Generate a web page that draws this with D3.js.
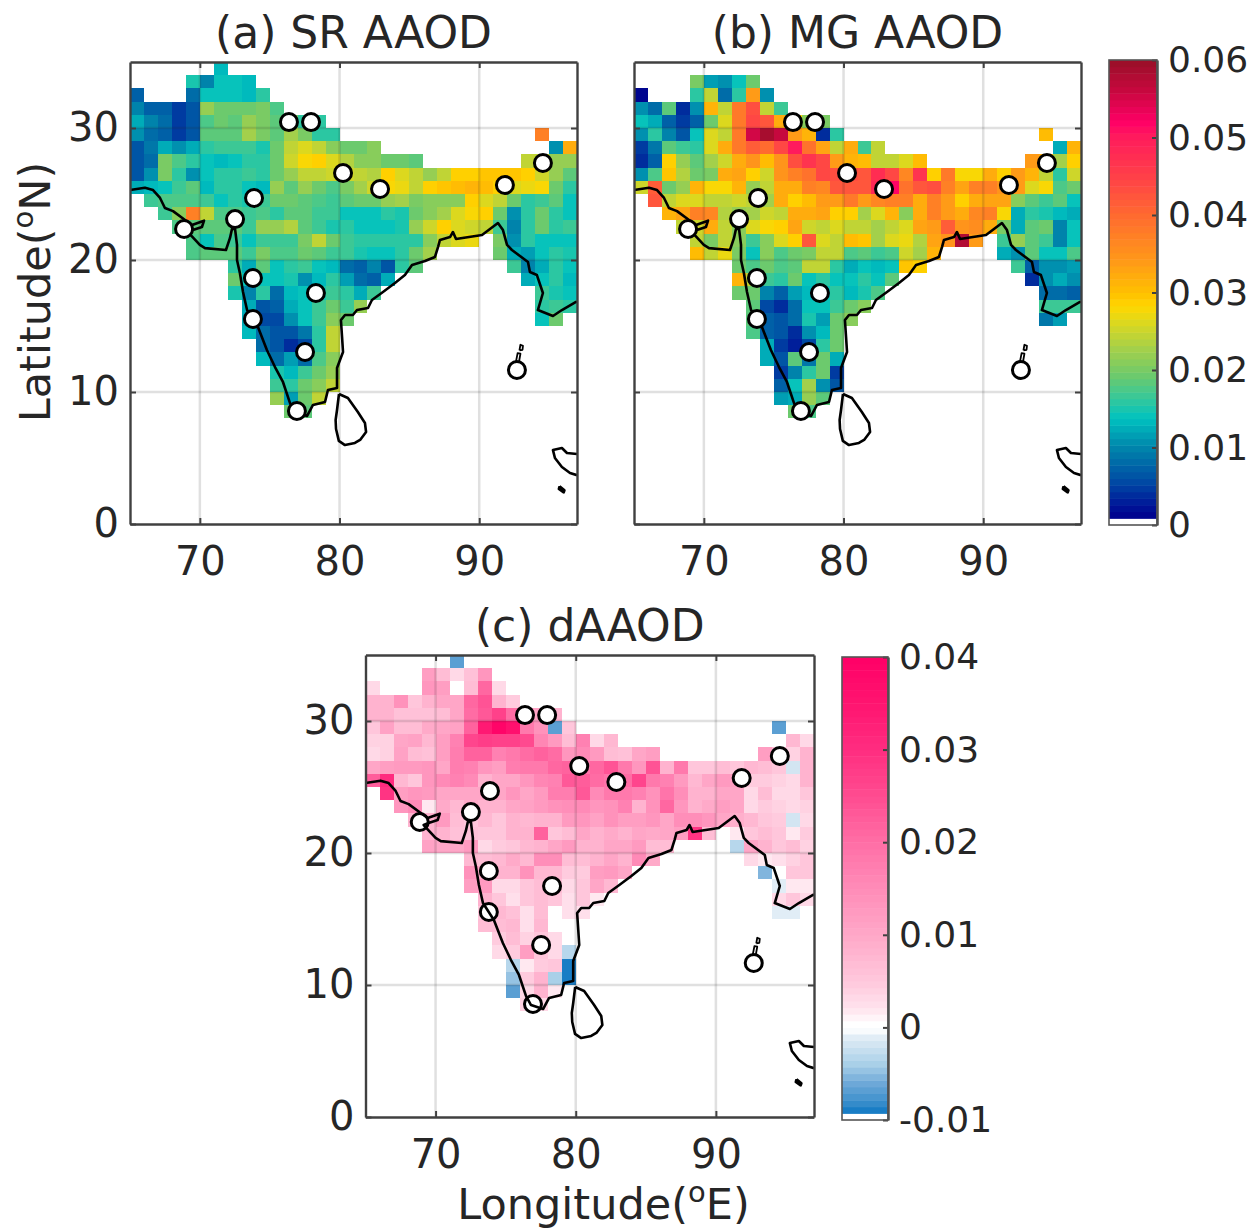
<!DOCTYPE html>
<meta charset="utf-8">
<style>
  html, body { margin: 0; background: #fff; }
  text { font-family: "DejaVu Sans", sans-serif; fill: #262626; }
  .axis path, .axis line { stroke: #404040; }
  .axis path { stroke-width: 2.4px; }
  .axis line { stroke-width: 2px; }
  .axis text { font-size: 40px; fill: #262626; }
  .grid line { stroke: #262626; stroke-opacity: .14; stroke-width: 2.5px; }
  .coast { fill: none; stroke: #000; stroke-width: 2.6px; stroke-linejoin: round; }
  .station { fill: #fff; stroke: #000; stroke-width: 3px; }
  .cells { filter: blur(.6px); }
</style>
<body>
<script src="https://d3js.org/d3.v7.min.js"></script>
<script>
// grid: one degree cells, first entry of each row is lon 65, values in units of 0.001
const _ = null;
const lats = [34,33,32,31,30,29,28,27,26,25,24,23,22,21,20,19,18,17,16,15,14,13,12,11,10,9,8];

const srAAOD = [
  [_,_,_,_,_,_,13],
  [_,_,_,_,15,10,14.5,14.5,13],
  [7,_,_,_,8.5,14,14.5,14.5,13.5,16],
  [9.5,7,7,5,6,22,19,19,19,20.5,17.5],
  [12,9.5,8.5,5,6,17.5,19.5,18.5,21.5,20,18.5,20,16,15.5],
  [10.5,8.5,7.5,4.5,6,18,18,18,22.5,20,18,22.5,20,15.5,15.5,_,_,_,_,_,_,_,_,_,_,_,_,_,_,37],
  [6,9,12.5,10.5,12,16,16.5,16.5,17,15,19,24.5,26.5,24.5,21,19,19.5,21,_,_,_,_,_,_,_,_,_,_,_,_,11,32],
  [6,8,20.5,17.5,16,14,13.5,14.5,16,16,19,25,27.5,28.5,26.5,23.5,21,21,19.5,19,18.5,_,_,_,_,_,_,_,24.5,24,22,21.5],
  [6,10.5,20.5,15.5,11,14.5,16,16,16.5,16,19,21.5,24.5,24.5,25,25,24.5,23.5,28.5,26.5,24.5,21.5,24.5,28.5,28.5,29.5,29.5,29.5,28.5,25,22,18.5],
  [12,13.5,14.5,16.5,18.5,13.5,15.5,16,14,13.5,21.5,18.5,21.5,19,17.5,20,22.5,25.5,28,27,24.5,28.5,29.5,30.5,31,30,29,26.5,27,28,19,16],
  [_,16.5,17.5,17.5,17.5,16.5,14.5,16,15,16.5,19,19,18.5,17.5,16.5,18.5,19,19.5,21.5,22.5,20,21,21,21,29,26,24.5,19.5,16,17,18,14.5],
  [_,_,17,21,37,24.5,17.5,17.5,16.5,17.5,16,18.5,18.5,16.5,16.5,14,14,14,16,15,19.5,21,23,26.5,28,28.5,19.5,10.5,16,19,15.5,14.5],
  [_,_,_,17.5,18.5,18,18.5,18,16.5,21.5,21.5,23.5,18,16.5,15,15.5,14.5,14,14.5,15,21.5,25,28.5,26.5,25.5,24.5,17,9.5,16,19,16,16.5],
  [_,_,_,_,17.5,14.5,17.5,16.5,14.5,16.5,16.5,16.5,20.5,24.5,19,17,15.5,15.5,15.5,16,16,21,24.5,26,27,_,20,10.5,16,14.5,14.5,14.5],
  [_,_,_,_,17.5,18,18,18,16.5,20.5,17.5,17.5,19,18,16.5,16.5,15,14.5,14.5,16,19.5,22.5,_,_,_,_,19.5,12.5,11.5,14.5,16,15],
  [_,_,_,_,_,_,_,16,12.5,18,14.5,15.5,17,14.5,13.5,8.5,7,9.5,6.5,16,18.5,_,_,_,_,_,_,16.5,10,12.5,16,14],
  [_,_,_,_,_,_,_,19.5,14,14.5,14,15,11,13.5,15.5,11.5,8.5,7.5,12.5,_,_,_,_,_,_,_,_,_,12.5,14.5,16,13.5],
  [_,_,_,_,_,_,_,15,9.5,15.5,8.5,13,14.5,15,16.5,15.5,12,17,_,_,_,_,_,_,_,_,_,_,_,16.5,15,14],
  [_,_,_,_,_,_,_,_,12.5,6.5,7.5,12.5,14,16.5,19,16.5,21.5,_,_,_,_,_,_,_,_,_,_,_,_,15.5,17,16],
  [_,_,_,_,_,_,_,_,12.5,5.5,5.5,10.5,14,17,21,19,_,_,_,_,_,_,_,_,_,_,_,_,_,14,19],
  [_,_,_,_,_,_,_,_,13.5,8.5,6.5,6,9,16,24.5],
  [_,_,_,_,_,_,_,_,_,8.5,6.5,4,5.5,15.5,24.5],
  [_,_,_,_,_,_,_,_,_,13,8,11.5,8.5,17.5,21],
  [_,_,_,_,_,_,_,_,_,_,15,13.5,16.5,19,21.5],
  [_,_,_,_,_,_,_,_,_,_,16.5,15.5,19,21,24.5],
  [_,_,_,_,_,_,_,_,_,_,22,11.5,19.5,24],
  [_,_,_,_,_,_,_,_,_,_,_,19.5,18.5]
];

const mgAAOD = [
  [],
  [_,_,_,_,20.5,11.5,11,14.5,19.5],
  [1.5,_,_,_,15.5,24.5,8.5,16,34,10.5],
  [11,8,18,3.5,10.5,31,24.5,38.5,43.5,24.5,16.5],
  [14.5,12,7,4.5,7,19.5,26.5,38.5,44,42.5,32,28,21,20],
  [11,15.5,9.5,6,14,26.5,24.5,38.5,55.5,59,56,34,31,3.5,16,_,_,_,_,_,_,_,_,_,_,_,_,_,_,30.5],
  [5,9,18,16.5,16,26.5,32.5,38,41.5,40,44.5,50.5,39,33,24.5,32.5,16.5,24.5,_,_,_,_,_,_,_,_,_,_,_,_,12.5,31.5],
  [4,7,28.5,21.5,18.5,22.5,25.5,32.5,35,30,34.5,43,46.5,44,33.5,31,30,24.5,24.5,26,30,_,_,_,_,_,_,_,34,32,22.5,28.5],
  [10.5,17.5,29.5,23.5,19,20.5,32.5,33,28.5,25.5,34.5,37,39,44,43,43,42,47.5,44.5,36,47,28.5,38,27.5,27.5,32,28.5,34,31.5,24.5,16,25.5],
  [25.5,41.5,19.5,21.5,31,28,28,31.5,21.5,24,32,32,37,36,42,42,42,48,51.5,39,42,43,37.5,33,37,37.5,34.5,34,26.5,28,17.5,19],
  [_,42.5,24.5,26,26.5,24.5,24,25,24,23,32.5,29,30.5,33.5,34,38,33.5,36,37,37,32.5,37,33.5,28.5,32,33,33,21,18.5,16.5,18.5,14.5],
  [_,_,31.5,33,37,36,23.5,21.5,22.5,25.5,24.5,32.5,32,33,28.5,28.5,22.5,26.5,31.5,21,32.5,37,34,32.5,36,37,28,12,15.5,15,13.5,12],
  [_,_,_,24,25,32,24,21,26.5,28,28.5,33,25,24.5,26,24.5,24.5,22.5,24.5,26.5,33,34,41.5,35,35.5,32,20.5,12.5,18.5,19.5,9.5,14.5],
  [_,_,_,_,24,20.5,24,21,16.5,21,26,28.5,42.5,26.5,24.5,30.5,29.5,22.5,26.5,27,23.5,33,35,58,34,_,17,21.5,18.5,16.5,9.5,14.5],
  [_,_,_,_,30.5,24.5,27,20,14,21,17.5,19,20.5,24.5,24,17.5,18.5,17,17.5,25.5,23,31,_,_,_,_,12.5,10.5,18.5,14.5,14.5,17.5],
  [_,_,_,_,_,_,_,19.5,17.5,19,17.5,18.5,24.5,24.5,15.5,12,14,13.5,14.5,29.5,28.5,_,_,_,_,_,_,16.5,7.5,10.5,10.5,11.5],
  [_,_,_,_,_,_,_,31,24.5,16.5,16,19.5,14.5,16,14.5,14,15.5,14,18.5,_,_,_,_,_,_,_,_,_,3.5,10.5,12.5,10.5],
  [_,_,_,_,_,_,_,19,19.5,9.5,7.5,11.5,13.5,14.5,15.5,13.5,15,17.5,_,_,_,_,_,_,_,_,_,_,_,8.5,8.5,7.5],
  [_,_,_,_,_,_,_,_,18.5,5.5,4,8.5,14,14.5,16.5,19.5,21,_,_,_,_,_,_,_,_,_,_,_,_,16.5,17,16.5],
  [_,_,_,_,_,_,_,_,18,7.5,6,8.5,15,11.5,19.5,21,_,_,_,_,_,_,_,_,_,_,_,_,_,9,11.5],
  [_,_,_,_,_,_,_,_,17.5,7.5,6,4,11,13.5,19],
  [_,_,_,_,_,_,_,_,_,12.5,5,3,5.5,16,19.5],
  [_,_,_,_,_,_,_,_,_,12.5,6.5,18,9,19.5,12],
  [_,_,_,_,_,_,_,_,_,_,5,9.5,15.5,19,4.5],
  [_,_,_,_,_,_,_,_,_,_,7,14.5,22.5,11,6.5],
  [_,_,_,_,_,_,_,_,_,_,11.5,12.5,21.5,18.5],
  [_,_,_,_,_,_,_,_,_,_,_,19,17.5]
];

const dAAOD = [
  [_,_,_,_,_,_,-6.5],
  [_,_,_,_,12,6.5,3,6,13],
  [3,_,_,_,13,12,0,7,21,3],
  [8.5,8.5,14,5,8.5,10.5,10.5,21,24,8.5,4.5],
  [8,8.5,6,6,6,6.5,10.5,20,23.5,26.5,20,12.5,11,8],
  [5,11,7,6.5,9.5,10.5,11,22,34,39,36,18,14,-6.5,5,_,_,_,_,_,_,_,_,_,_,_,_,_,_,-6.5],
  [4,4,10.5,11,7.5,11.5,16.5,26,27.5,27,27,25.5,16,12.5,6.5,16.5,3,7.5,_,_,_,_,_,_,_,_,_,_,_,_,7.5,3],
  [3.5,4,11,6.5,6,11.5,17.5,22,22,16.5,18,20.5,22,20,13.5,15,12.5,6.5,6,10.5,12,_,_,_,_,_,_,_,11.5,7,4,8.5],
  [10.5,12,12.5,12.5,13,10.5,17.5,17,13.5,11.5,17.5,18,18.5,21,22,19,21,24,18.5,13.5,24,8.5,18,5,5,6.5,5,7.5,6.5,5,-2,8.5],
  [22.5,30,7.5,5.5,13.5,15,16.5,15.5,8.5,10.5,10.5,13.5,16,16.5,23.5,22.5,20,19,20,26,18,17,12.5,7.5,10.5,12.5,12,4.5,4.5,4,3.5,8.5],
  [_,29,11.5,13.5,12.5,10.5,10.5,10.5,10.5,10.5,13.5,10.5,12.5,17.5,17.5,23.5,15.5,18,18.5,16.5,14,19,14.5,8.5,8.5,10.5,10.5,3.5,7,3,3,5],
  [_,_,13.5,15.5,2,9.5,7.5,9.5,8.5,8.5,10.5,11,12.5,14,14.5,15,13.5,14,16.5,8.5,14,21,13.5,8.5,9.5,12,10.5,3.5,4.5,4,3.5,4],
  [_,_,_,8,8.5,12.5,6.5,5.5,7.5,5.5,8.5,7.5,8.5,8.5,12.5,13.5,11,14,12,12,13.5,10.5,14.5,14.5,13.5,10.5,9,7.5,5,4.5,-1.5,3],
  [_,_,_,_,8,8.5,6,6,5,5,8.5,8.5,22,5.5,7,10.5,8,9.5,8.5,10,9.5,10.5,12,29,6.5,_,2,5.5,6.5,5.5,1.5,4.5],
  [_,_,_,_,11,10.5,10.5,12.5,3,4.5,5.5,7.5,8.5,10.5,12.5,8.5,8.5,10.5,10.5,12.5,6.5,7,_,_,_,_,-3,10.5,8.5,5,6.5,4],
  [_,_,_,_,_,_,_,7.5,6.5,7.5,9.5,7.5,14.5,14.5,6.5,6.5,8.5,10.5,8.5,15,9.5,_,_,_,_,_,_,3,2,2.5,4,5],
  [_,_,_,_,_,_,_,14,9.5,8.5,8.5,14,7.5,7.5,4.5,4.5,11.5,12.5,10,_,_,_,_,_,_,_,_,_,-5.5,.5,5,5],
  [_,_,_,_,_,_,_,11.5,12.5,3,3,5,6.5,6.5,3.5,5.5,10.5,7.5,_,_,_,_,_,_,_,_,_,_,_,-1,2,2],
  [_,_,_,_,_,_,_,_,8.5,5,2.5,5,6.5,5.5,2.5,5.5,2,_,_,_,_,_,_,_,_,_,_,_,_,3.5,5.5,3.5],
  [_,_,_,_,_,_,_,_,5.5,7.5,6,2.5,6.5,_,2.5,2.5,_,_,_,_,_,_,_,_,_,_,_,_,_,-1,-1],
  [_,_,_,_,_,_,_,_,6.5,6.5,7.5,2.5,7.5],
  [_,_,_,_,_,_,_,_,_,4.5,6.5,4,5,3],
  [_,_,_,_,_,_,_,_,_,3,4.5,12,5,3,-3.5],
  [_,_,_,_,_,_,_,_,_,_,-3,2,4.5,5.5,-9],
  [_,_,_,_,_,_,_,_,_,_,-4.5,4.5,8.5,-4,-9],
  [_,_,_,_,_,_,_,_,_,_,-6.5,3,8,2],
  [_,_,_,_,_,_,_,_,_,_,_,4,3]
];

// station markers, lon / lat
const stationLon = [76.38,77.96,80.25,82.9,94.56,91.84,73.88,72.52,68.87,73.8,78.31,73.8,77.53,76.95,92.7];
const stationLat = [30.45,30.45,26.59,25.38,27.35,25.68,24.7,23.1,22.35,18.64,17.5,15.53,13.03,8.56,11.67];

// coastlines, [lon, lat]
const coastIndia = [[65,25.3],[66.07,25.48],[66.65,25.3],[67.15,24.7],[67.5,23.94],[68.08,23.7],[68.94,23.03],[69.44,22.65],[70.3,22.98],[70.15,22.5],[69.5,22.27],[69.15,22.12],[70,21.14],[70.37,20.9],[71.87,20.76],[72.16,21.67],[72.3,22.35],[72.52,22.35],[72.66,21.14],[72.66,20],[72.87,19],[73.09,17.58],[73.38,16.21],[74.16,14.92],[74.8,13.18],[75.38,11.89],[75.95,10.76],[76.45,9.17],[76.81,8.48],[77.67,8.18],[78.1,9.02],[78.96,9.24],[79.17,10.15],[79.82,10.3],[79.82,11.82],[80.25,13.03],[80.18,14.17],[80.1,15.45],[80.39,15.83],[80.96,15.83],[81.25,16.21],[82.04,16.36],[82.32,16.97],[83.11,17.58],[83.97,18.26],[84.68,18.86],[85.19,19.62],[86.12,19.92],[86.83,20.23],[87.05,20.98],[87.19,21.52],[87.91,21.74],[88.12,22.12],[88.34,21.59],[90.2,21.89],[91.34,22.8],[91.7,22.27],[91.99,21.14],[92.34,20.76],[93.49,19.85],[93.63,19.09],[94.13,18.86],[94.56,17.5],[94.2,16.21],[95.28,15.76],[95.92,16.21],[96.93,16.82],[97,16.85]];
const coastLanka = [[79.96,9.85],[80.6,9.55],[81.3,8.5],[81.82,7.65],[81.9,6.97],[81.5,6.4],[81.1,6.14],[80.39,5.98],[79.95,6.3],[79.75,7.2],[79.72,7.88],[79.82,8.64],[79.96,9.85]];
const coastSumatra = [[97,5.3],[96.28,5.38],[95.92,5.76],[95.28,5.6],[95.42,5],[95.92,4.32],[96.5,3.86],[97,3.7]];
const coastSimeulue = [[95.75,2.85],[96.1,2.55],[96.05,2.4],[95.7,2.65],[95.75,2.85]];
const coastAndaman1 = [[92.88,13.15],[93.1,13.2],[93.13,13.5],[92.95,13.58],[92.88,13.15]];
const coastAndaman2 = [[92.62,12.25],[92.85,12.3],[92.95,12.9],[92.75,12.95],[92.62,12.25]];
const coastLines = [coastIndia, coastLanka, coastSumatra, coastSimeulue];
const islandLines = [coastAndaman1, coastAndaman2];

const lonTicks = [70,80,90];
const latTicks = [0,10,20,30];
const rainbowTicks = [0,0.01,0.02,0.03,0.04,0.05,0.06];
const pinkTicks = [-0.01,0,0.01,0.02,0.03,0.04];

// colour ramps
const rainbowStops = [0.0009,0.0025,0.0055,0.010,0.0138,0.0165,0.0195,0.023,0.026,0.0282,0.030,0.034,0.040,0.045,0.050,0.052,0.056,0.060];
const rainbowColors = ["#00008c","#001598","#0048a4","#0085ab","#00c2c0","#38c898","#70ca6a","#a8d048","#dad820","#ffd700","#ffc000","#ff9a18","#ff6a30","#ff4048","#ff1c5c","#ff0066","#c8083f","#981028"];
const pinkStops = [-0.0096,-0.008,-0.006,-0.004,-0.002,-0.0008,-0.0002,0.0004,0.002,0.005,0.01,0.015,0.02,0.025,0.03,0.035,0.04];
const pinkColors = ["#0070c0","#3c8fcc","#6fa9d8","#a8cfe8","#cfe3f1","#e6f0f8","#ffffff","#ffffff","#ffe4ee","#ffc8dc","#ffa8c8","#ff8cb8","#ff6ea6","#ff4c90","#ff2d80","#ff1470","#ff0066"];

const W = 1251, H = 1228;
const svg = d3.select("body").append("svg").attr("width", W).attr("height", H).style("display", "block");

// matlab style: fixed number of flat colour levels, lowest level is white
function levels(stops, colors, lo, hi, n) {
  const ramp = d3.scaleLinear().domain(stops).range(colors).clamp(true);
  const step = (hi - lo) / n;
  return function(v) {
    const i = Math.max(0, Math.min(n - 1, Math.floor((v - lo) / step)));
    return i === 0 ? "#fff" : ramp(lo + (i + .5) * step);
  };
}
const rainbow = levels(rainbowStops, rainbowColors, 0, 0.06, 70);
const pinks = levels(pinkStops, pinkColors, -0.01, 0.04, 70);

function drawMap(box, rows, color, title, coastOnTop, showLatLabels) {
  const x = d3.scaleLinear().domain([65, 97]).range([box.left, box.right]);
  const y = d3.scaleLinear().domain([0, 35]).range([box.bottom, box.top]);
  const g = svg.append("g");
  const clipId = "clip" + Math.round(box.left);
  g.append("clipPath").attr("id", clipId).append("rect")
    .attr("x", box.left).attr("y", box.top)
    .attr("width", box.right - box.left).attr("height", box.bottom - box.top);

  const cells = [];
  rows.forEach((row, r) => row.forEach((v, c) => {
    if (v !== null) cells.push({lon: 65 + c, lat: lats[r], v: v / 1000});
  }));
  g.append("g").attr("class", "cells").attr("clip-path", "url(#" + clipId + ")")
    .selectAll("rect").data(cells).enter().append("rect")
    .attr("x", d => x(d.lon)).attr("width", d => x(d.lon + 1) - x(d.lon))
    .attr("y", d => y(d.lat + 1)).attr("height", d => y(d.lat) - y(d.lat + 1))
    .attr("shape-rendering", "crispEdges")
    .style("fill", d => color(d.v));

  // grid
  const grid = g.append("g").attr("class", "grid");
  grid.selectAll(".gx").data(lonTicks).enter().append("line")
    .attr("x1", d => x(d)).attr("x2", d => x(d)).attr("y1", box.top).attr("y2", box.bottom);
  grid.selectAll(".gy").data(latTicks.slice(1)).enter().append("line")
    .attr("y1", d => y(d)).attr("y2", d => y(d)).attr("x1", box.left).attr("x2", box.right);

  const line = d3.line().x(d => x(d[0])).y(d => y(d[1]));
  const drawCoast = () => {
    const c = g.append("g").attr("clip-path", "url(#" + clipId + ")");
    c.selectAll(".main").data(coastLines).enter().append("path")
      .attr("class", "coast").attr("d", line);
    c.selectAll(".isl").data(islandLines).enter().append("path")
      .attr("class", "coast").style("stroke-width", 1.8).attr("d", line);
  };
  const drawStations = () => g.append("g").selectAll("circle").data(stationLon).enter().append("circle")
    .attr("class", "station").attr("r", 8.5)
    .attr("cx", d => x(d)).attr("cy", (d, i) => y(stationLat[i]));
  if (coastOnTop) { drawStations(); drawCoast(); } else { drawCoast(); drawStations(); }

  // box with ticks pointing inwards on all four sides
  const noLabel = a => a.tickFormat("").tickSizeOuter(0).tickSizeInner(-6);
  g.append("g").attr("class", "axis").attr("transform", "translate(0," + box.bottom + ")")
    .call(d3.axisBottom(x).tickValues(lonTicks).tickSizeOuter(0).tickSizeInner(-6).tickPadding(23));
  const left = d3.axisLeft(y).tickValues(latTicks).tickSizeOuter(0).tickSizeInner(-6).tickPadding(11);
  if (!showLatLabels) left.tickFormat("");
  g.append("g").attr("class", "axis").attr("transform", "translate(" + box.left + ",0)").call(left);
  g.append("g").attr("class", "axis").attr("transform", "translate(0," + box.top + ")")
    .call(noLabel(d3.axisTop(x).tickValues(lonTicks)));
  g.append("g").attr("class", "axis").attr("transform", "translate(" + box.right + ",0)")
    .call(noLabel(d3.axisRight(y).tickValues(latTicks)));

  g.append("text").attr("x", (box.left + box.right) / 2).attr("y", box.top - 14)
    .attr("text-anchor", "middle").style("font-size", "44px").text(title);
}

function drawBar(box, color, lo, hi, ticks) {
  const y = d3.scaleLinear().domain([lo, hi]).range([box.bottom, box.top]);
  const n = 70, step = (hi - lo) / n;
  const g = svg.append("g");
  g.selectAll("rect").data(d3.range(n)).enter().append("rect")
    .attr("x", box.left).attr("width", box.right - box.left)
    .attr("y", i => y(lo + (i + 1) * step)).attr("height", y(lo) - y(lo + step) + .5)
    .style("fill", i => color(lo + (i + .5) * step));
  const ax = g.append("g").attr("class", "axis").attr("transform", "translate(" + box.right + ",0)")
    .call(d3.axisRight(y).tickValues(ticks).tickFormat(d => String(+d.toFixed(2)))
      .tickSizeOuter(0).tickSizeInner(-5).tickPadding(11));
  ax.selectAll("text").style("font-size", "36px");
  g.append("rect").attr("x", box.left).attr("y", box.top)
    .attr("width", box.right - box.left).attr("height", box.bottom - box.top)
    .style("fill", "none").style("stroke", "#555").style("stroke-width", 1.6);
}

drawMap({left: 130, right: 577, top: 62, bottom: 524}, srAAOD, rainbow, "(a) SR AAOD", false, true);
drawMap({left: 634, right: 1081, top: 62, bottom: 524}, mgAAOD, rainbow, "(b) MG AAOD", false, false);
drawMap({left: 365.5, right: 814, top: 655, bottom: 1117}, dAAOD, pinks, "(c) dAAOD", true, true);
drawBar({left: 1109, right: 1157, top: 60, bottom: 525}, rainbow, 0, 0.06, rainbowTicks);
drawBar({left: 842, right: 888, top: 657, bottom: 1120}, pinks, -0.01, 0.04, pinkTicks);

// axis titles with the raised o
const latLabel = svg.append("text").attr("transform", "translate(50,292) rotate(-90)")
  .attr("text-anchor", "middle").style("font-size", "43px");
latLabel.append("tspan").text("Latitude(");
latLabel.append("tspan").attr("dy", -17).style("font-size", "29px").text("o");
latLabel.append("tspan").attr("dy", 17).text("N)");

const lonLabel = svg.append("text").attr("x", 603.5).attr("y", 1219)
  .attr("text-anchor", "middle").style("font-size", "43px");
lonLabel.append("tspan").text("Longitude(");
lonLabel.append("tspan").attr("dy", -17).style("font-size", "29px").text("o");
lonLabel.append("tspan").attr("dy", 17).text("E)");
</script>
</body>
